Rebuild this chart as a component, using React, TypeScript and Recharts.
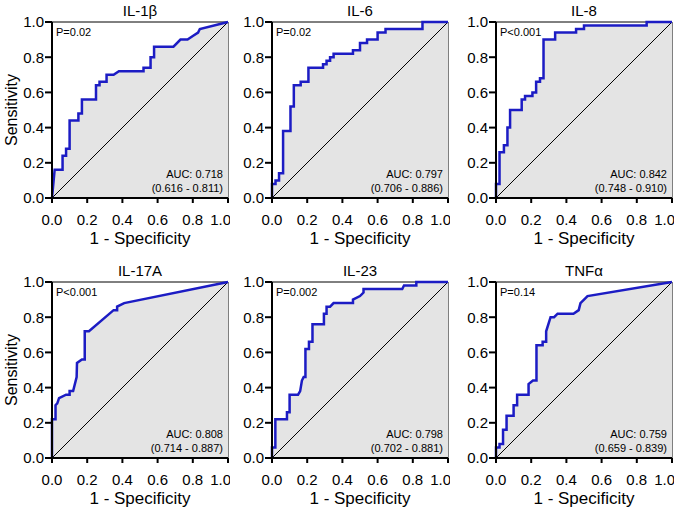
import { ComposedChart, Area, Line, XAxis, YAxis, ReferenceArea } from "recharts";

const FONT = '"Liberation Sans", Arial, Helvetica, sans-serif';
const BLUE = "#1c1cc4";
const FILL = "#e4e4e4";

const ticks = [0, 0.2, 0.4, 0.6, 0.8, 1.0];
const titles = ["IL-1β", "IL-6", "IL-8", "IL-17A", "IL-23", "TNFα"];
const pLabels = ["P=0.02", "P=0.02", "P<0.001", "P<0.001", "P=0.002", "P=0.14"];
const aucLabels = ["AUC: 0.718", "AUC: 0.797", "AUC: 0.842", "AUC: 0.808", "AUC: 0.798", "AUC: 0.759"];
const ciLabels = [
  "(0.616 - 0.811)", "(0.706 - 0.886)", "(0.748 - 0.910)",
  "(0.714 - 0.887)", "(0.702 - 0.881)", "(0.659 - 0.839)",
];

// [1 - specificity, sensitivity] corners
const il1b = [
  [0, 0], [0.015, 0.16], [0.06, 0.16], [0.06, 0.24], [0.08, 0.24], [0.08, 0.28], [0.10, 0.28],
  [0.10, 0.44], [0.15, 0.44], [0.15, 0.48], [0.17, 0.48], [0.17, 0.56], [0.25, 0.56], [0.25, 0.64],
  [0.27, 0.64], [0.27, 0.66], [0.31, 0.66], [0.31, 0.70], [0.35, 0.70], [0.38, 0.72], [0.52, 0.72],
  [0.52, 0.74], [0.56, 0.74], [0.56, 0.80], [0.58, 0.80], [0.58, 0.86], [0.69, 0.86], [0.73, 0.90],
  [0.77, 0.90], [0.80, 0.92], [0.83, 0.94], [0.84, 0.96], [1, 1],
];
const il6 = [
  [0, 0], [0, 0.08], [0.02, 0.08], [0.02, 0.10], [0.04, 0.10], [0.04, 0.14], [0.063, 0.14],
  [0.063, 0.38], [0.105, 0.38], [0.105, 0.52], [0.124, 0.52], [0.124, 0.64], [0.163, 0.64],
  [0.163, 0.66], [0.207, 0.66], [0.207, 0.74], [0.29, 0.74], [0.29, 0.76], [0.31, 0.76], [0.31, 0.78],
  [0.33, 0.78], [0.33, 0.80], [0.35, 0.80], [0.35, 0.82], [0.46, 0.82], [0.46, 0.84], [0.50, 0.84],
  [0.50, 0.88], [0.54, 0.88], [0.54, 0.90], [0.60, 0.90], [0.60, 0.94], [0.645, 0.94], [0.645, 0.96],
  [0.855, 0.96], [0.855, 1.0], [1, 1],
];
const il8 = [
  [0, 0], [0, 0.08], [0.02, 0.08], [0.02, 0.26], [0.045, 0.26], [0.045, 0.30], [0.065, 0.30],
  [0.065, 0.40], [0.08, 0.40], [0.08, 0.50], [0.146, 0.50], [0.146, 0.56], [0.165, 0.56], [0.165, 0.58],
  [0.207, 0.58], [0.207, 0.60], [0.228, 0.60], [0.228, 0.66], [0.25, 0.66], [0.25, 0.68], [0.27, 0.68],
  [0.27, 0.90], [0.336, 0.90], [0.336, 0.94], [0.455, 0.94], [0.455, 0.96], [0.50, 0.96], [0.50, 0.98],
  [0.856, 0.98], [0.856, 1.0], [1, 1],
];
const il17a = [
  [0, 0], [0, 0.22], [0.02, 0.22], [0.02, 0.30], [0.03, 0.31], [0.04, 0.34], [0.08, 0.36], [0.10, 0.36],
  [0.10, 0.38], [0.12, 0.38], [0.14, 0.46], [0.142, 0.54], [0.17, 0.56], [0.186, 0.56], [0.186, 0.72],
  [0.21, 0.72], [0.35, 0.84], [0.37, 0.84], [0.37, 0.86], [0.41, 0.88], [1, 1],
];
const il23 = [
  [0, 0], [0, 0.06], [0.019, 0.06], [0.019, 0.22], [0.085, 0.22], [0.085, 0.26], [0.10, 0.26],
  [0.10, 0.36], [0.148, 0.36], [0.16, 0.38], [0.17, 0.44], [0.18, 0.46], [0.19, 0.46], [0.19, 0.62],
  [0.21, 0.62], [0.21, 0.66], [0.23, 0.66], [0.23, 0.76], [0.295, 0.76], [0.295, 0.82], [0.31, 0.82],
  [0.31, 0.86], [0.33, 0.86], [0.35, 0.88], [0.46, 0.88], [0.46, 0.90], [0.50, 0.92], [0.52, 0.94],
  [0.52, 0.96], [0.74, 0.96], [0.75, 0.98], [0.82, 0.98], [0.82, 1.0], [1, 1],
];
const tnfa = [
  [0, 0], [0, 0.06], [0.02, 0.06], [0.02, 0.08], [0.04, 0.08], [0.04, 0.16], [0.06, 0.16], [0.06, 0.24],
  [0.10, 0.24], [0.10, 0.30], [0.12, 0.30], [0.12, 0.36], [0.185, 0.36], [0.185, 0.42], [0.21, 0.44],
  [0.23, 0.44], [0.23, 0.64], [0.265, 0.64], [0.265, 0.66], [0.285, 0.66], [0.285, 0.72], [0.31, 0.80],
  [0.33, 0.80], [0.35, 0.82], [0.44, 0.82], [0.47, 0.84], [0.48, 0.88], [0.52, 0.92], [1, 1],
];
const diagonal = [[0, 0], [1, 1]];

const curves = [il1b, il6, il8, il17a, il23, tnfa];
const plotLefts = [52, 272, 496];
const plotTops = [22, 282];

const toRows = (pts: number[][]) => pts.map(([x, y]) => ({ x, y }));

function Panel({ i }: { i: number }) {
  const pl = plotLefts[i % 3];
  const pt = plotTops[Math.floor(i / 3)];
  const data = toRows(curves[i]);
  const axisTick = { fill: "#000", fontSize: 15, fontFamily: FONT };
  const txt = { position: "absolute" as const, fontFamily: FONT, color: "#000", whiteSpace: "nowrap" as const };

  return (
    <>
      <div style={{ position: "absolute", left: pl - 52, top: pt - 22 }}>
        <ComposedChart width={230} height={250} data={data} margin={{ top: 22, right: 2, left: 12, bottom: 4 }}>
          <XAxis
            dataKey="x" type="number" domain={[0, 1]} ticks={ticks}
            tickFormatter={(v: number) => v.toFixed(1)} height={48}
            axisLine={{ stroke: "#000", strokeWidth: 2 }} tickLine={{ stroke: "#000", strokeWidth: 2 }}
            tickSize={5} tickMargin={11} tick={axisTick}
            label={{ value: "1 - Specificity", position: "insideBottom", offset: 2, fill: "#000", fontSize: 17, fontFamily: FONT }}
          />
          <YAxis
            type="number" domain={[0, 1]} ticks={ticks} width={40}
            tickFormatter={(v: number) => v.toFixed(1)}
            axisLine={{ stroke: "#000", strokeWidth: 2 }} tickLine={{ stroke: "#000", strokeWidth: 2 }}
            tickSize={7} tickMargin={1} tick={axisTick}
            label={i % 3 === 0 ? {
              value: "Sensitivity", angle: -90, position: "insideLeft", offset: -1,
              fill: "#000", fontSize: 16, fontFamily: FONT, style: { textAnchor: "middle" },
            } : undefined}
          />
          <ReferenceArea x1={0} x2={1} y1={0} y2={1} fill="none" stroke="#000" strokeWidth={1} fillOpacity={0} />
          <Area dataKey="y" type="linear" fill={FILL} fillOpacity={1} stroke="none" isAnimationActive={false} />
          <Line data={toRows(diagonal)} dataKey="y" type="linear" stroke="#000" strokeWidth={1} dot={false} isAnimationActive={false} />
          <Line dataKey="y" type="linear" stroke={BLUE} strokeWidth={2.5} dot={false} isAnimationActive={false} />
        </ComposedChart>
      </div>
      <div style={{ ...txt, left: pl, width: 176, top: pt - 12, transform: "translateY(-50%)", textAlign: "center", fontSize: 15 }}>
        {titles[i]}
      </div>
      <div style={{ ...txt, left: pl + 4, top: pt + 10, transform: "translateY(-50%)", fontSize: 11 }}>
        {pLabels[i]}
      </div>
      <div style={{ ...txt, right: 686 - (pl + 171), top: pt + 152, transform: "translateY(-50%)", fontSize: 11, textAlign: "right" }}>
        {aucLabels[i]}
      </div>
      <div style={{ ...txt, right: 686 - (pl + 171), top: pt + 166, transform: "translateY(-50%)", fontSize: 11, textAlign: "right" }}>
        {ciLabels[i]}
      </div>
    </>
  );
}

export default function App() {
  return (
    <div style={{ position: "fixed", left: 0, top: 0, width: 686, height: 511, background: "#fff", overflow: "hidden" }}>
      {[0, 1, 2, 3, 4, 5].map((i) => <Panel key={i} i={i} />)}
    </div>
  );
}
